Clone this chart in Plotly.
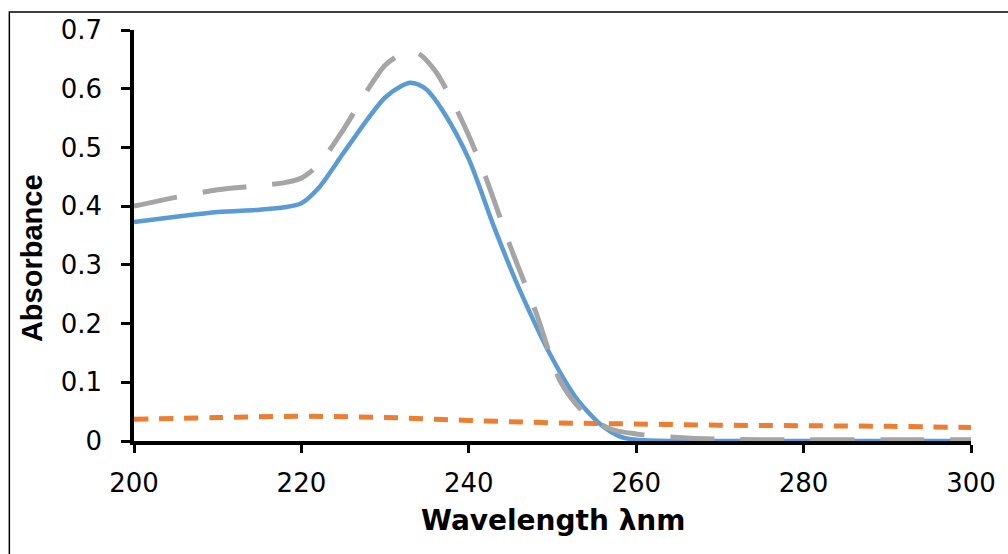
import plotly.graph_objects as go

# wavelength (nm) and absorbance
wl_blue = [200, 205, 210, 215, 218, 220, 222, 225, 228, 230, 232, 233, 234, 235, 237,
           240, 243, 246, 250, 253, 256, 258, 260, 265, 270, 280, 290, 300]
abs_blue = [0.373, 0.382, 0.390, 0.394, 0.398, 0.405, 0.43, 0.49, 0.55, 0.585, 0.605, 0.61,
            0.607, 0.598, 0.56, 0.48, 0.365, 0.26, 0.14, 0.07, 0.025, 0.008, 0.002, 0.0,
            0.0, 0.0, 0.0, 0.0]

wl_orange = [200, 210, 220, 230, 240, 250, 260, 270, 280, 290, 300]
abs_orange = [0.037, 0.040, 0.042, 0.040, 0.035, 0.031, 0.029, 0.027, 0.026, 0.025, 0.023]

wl_grey = [200, 205, 210, 215, 218, 220, 222, 225, 228, 230, 232, 233, 234, 236, 238,
           240, 242, 245, 248, 251, 254, 257, 260, 265, 270, 280, 290, 300]
abs_grey = [0.400, 0.415, 0.428, 0.435, 0.44, 0.448, 0.47, 0.53, 0.60, 0.64, 0.66, 0.663,
            0.66, 0.63, 0.58, 0.52, 0.45, 0.33, 0.22, 0.10, 0.045, 0.02, 0.012, 0.006,
            0.003, 0.002, 0.002, 0.002]

x_ticks = [200, 220, 240, 260, 280, 300]
y_ticks = [0, 0.1, 0.2, 0.3, 0.4, 0.5, 0.6, 0.7]
y_labels = ['0', '0.1', '0.2', '0.3', '0.4', '0.5', '0.6', '0.7']

fig = go.Figure()
fig.add_trace(go.Scatter(x=wl_blue, y=abs_blue, mode='lines',
                         line=dict(color='#5B9BD5', width=4.5, shape='spline', smoothing=0.8)))
fig.add_trace(go.Scatter(x=wl_orange, y=abs_orange, mode='lines',
                         line=dict(color='#ED7D31', width=5, dash='14px,11px',
                                   shape='spline')))
fig.add_trace(go.Scatter(x=wl_grey, y=abs_grey, mode='lines',
                         line=dict(color='#A5A5A5', width=5, dash='44px,26px',
                                   shape='spline', smoothing=0.8)))

W, H = 1008, 554
L, T = 134, 30
R, B = W - 980, H - 441
pw, ph = W - L - R, H - T - B

fig.update_layout(
    width=W, height=H,
    margin=dict(l=L, r=R, t=T, b=B),
    plot_bgcolor='white', paper_bgcolor='white',
    showlegend=False,
    xaxis=dict(range=[200, 300], tickvals=x_ticks, showgrid=False, zeroline=False,
               showline=True, linecolor='black', linewidth=3.5,
               ticks='outside', ticklen=8, tickwidth=3, tickcolor='black',
               tickfont=dict(family='DejaVu Sans', size=26, color='black'),
               ticklabelstandoff=8, ticklabeloverflow='allow'),
    yaxis=dict(range=[0, 0.7], tickvals=y_ticks, ticktext=y_labels, showgrid=False,
               zeroline=False, showline=True, linecolor='black', linewidth=3.5,
               ticks='outside', ticklen=9, tickwidth=3, tickcolor='black',
               tickfont=dict(family='DejaVu Sans', size=26, color='black'),
               ticklabelstandoff=14),
)

fig.add_annotation(text='<b>Wavelength λnm</b>', xref='paper', yref='paper',
                   x=0.5, y=(441 - 520) / ph, xanchor='center', yanchor='middle',
                   showarrow=False,
                   font=dict(family='DejaVu Sans', size=28, color='black'))
fig.add_annotation(text='<b>Absorbance</b>', xref='paper', yref='paper',
                   x=(31 - L) / pw, y=(441 - 258) / ph, xanchor='center', yanchor='middle',
                   textangle=-90, showarrow=False,
                   font=dict(family='Liberation Sans', size=29, color='black'))

# chart-area frame, cut off at right and bottom like the source image
fig.add_shape(type='rect', xref='paper', yref='paper',
              x0=(8 - L) / pw, x1=(1020 - L) / pw,
              y0=(441 - 570) / ph, y1=(441 - 12) / ph,
              line=dict(color='black', width=1.5))

# drop the default body margin so the figure sits exactly in the window
fig.write_html("out.html", config={'displayModeBar': False},
               post_script="document.body.style.margin='0';document.body.style.overflow='hidden';")
